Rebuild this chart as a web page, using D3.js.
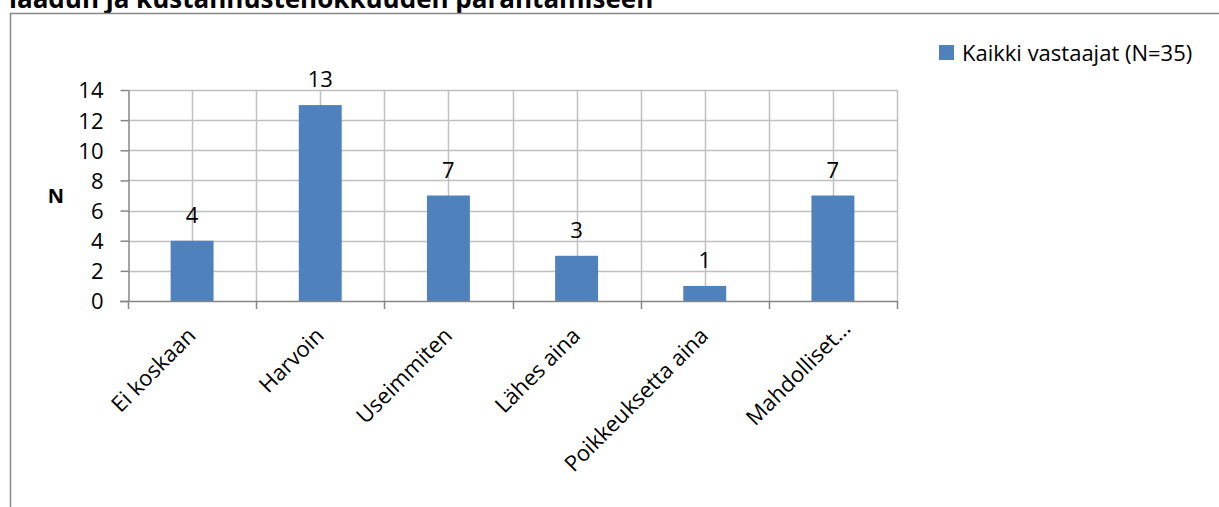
<!DOCTYPE html>
<head>
  <meta charset="utf-8">
  <style>
    body { margin: 0; background: #fff; }
    text { font-family: 'Open Sans', 'Noto Sans', sans-serif; fill: #000; }
  </style>
</head>
<body>
  <script src="https://cdn.jsdelivr.net/npm/d3@7"></script>
  <script>
    // data
    const categories = ['Ei koskaan', 'Harvoin', 'Useimmiten', 'Lähes aina', 'Poikkeuksetta aina', 'Mahdolliset…'];
    const counts = [4, 13, 7, 3, 1, 7];
    const yTicks = [0, 2, 4, 6, 8, 10, 12, 14];
    const seriesName = 'Kaikki vastaajat (N=35)';
    const titleText = 'laadun ja kustannustehokkuuden parantamiseen';

    const width = 1219;
    const height = 507;
    const plot = {left: 128, right: 897, top: 90, bottom: 301};
    const barColor = '#4F81BD';
    const fs = '22px';

    const svg = d3.select('body').append('svg')
      .attr('width', width)
      .attr('height', height);

    // title line (cut off at the top in the reference)
    svg.append('text')
      .attr('x', 9).attr('y', 8)
      .style('font-size', '26px')
      .style('font-weight', 'bold')
      .text(titleText);

    // chart frame
    svg.append('path')
      .attr('d', 'M10.5,' + height + ' V13.5 H' + width)
      .attr('fill', 'none')
      .attr('stroke', '#888')
      .attr('stroke-width', 1.5);

    const x = d3.scaleBand().domain(categories).range([plot.left, plot.right]);
    const y = d3.scaleLinear().domain([0, 14]).range([plot.bottom, plot.top]);

    // gridlines: horizontal
    svg.append('g').selectAll('line')
      .data(yTicks.filter(d => d > 0)).enter().append('line')
      .attr('x1', plot.left).attr('x2', plot.right)
      .attr('y1', d => Math.round(y(d)) + 0.5).attr('y2', d => Math.round(y(d)) + 0.5)
      .attr('stroke', '#C0C0C0').attr('stroke-width', 1.5);

    // gridlines: vertical at category edges and centres
    const vLines = [];
    categories.forEach(c => {
      vLines.push(x(c) + x.bandwidth() / 2);
      vLines.push(x(c) + x.bandwidth());
    });
    svg.append('g').selectAll('line')
      .data(vLines).enter().append('line')
      .attr('x1', d => Math.round(d) + 0.5).attr('x2', d => Math.round(d) + 0.5)
      .attr('y1', plot.top).attr('y2', plot.bottom)
      .attr('stroke', '#C0C0C0').attr('stroke-width', 1.5);

    // bars
    const bw = x.bandwidth() * 0.335;
    svg.append('g').selectAll('rect')
      .data(counts).enter().append('rect')
      .attr('x', (d, i) => x(categories[i]) + x.bandwidth() / 2 - bw / 2)
      .attr('y', d => y(d))
      .attr('width', bw)
      .attr('height', d => y(0) - y(d))
      .attr('fill', barColor);

    // value labels
    svg.append('g').selectAll('text')
      .data(counts).enter().append('text')
      .attr('x', (d, i) => x(categories[i]) + x.bandwidth() / 2)
      .attr('y', d => y(d) - 18)
      .attr('text-anchor', 'middle')
      .style('font-size', fs)
      .text(d => d);

    // y axis
    const yAxis = d3.axisLeft(y).tickValues(yTicks).tickSize(8).tickPadding(17).tickSizeOuter(0);
    const gy = svg.append('g')
      .attr('transform', 'translate(' + (plot.left + 0.5) + ',0)')
      .call(yAxis);
    gy.selectAll('text').style('font-size', fs).attr('fill', '#000').attr('dy', '0.36em');
    gy.selectAll('line').attr('stroke', '#868686').attr('stroke-width', 1.5);
    gy.select('.domain').attr('stroke', '#868686').attr('stroke-width', 1.5);

    // x axis baseline with ticks at category edges
    svg.append('line')
      .attr('x1', plot.left - 8).attr('x2', plot.right + 1)
      .attr('y1', plot.bottom + 0.5).attr('y2', plot.bottom + 0.5)
      .attr('stroke', '#868686').attr('stroke-width', 1.5);
    const edges = [plot.left].concat(categories.map(c => x(c) + x.bandwidth()));
    svg.append('g').selectAll('line')
      .data(edges).enter().append('line')
      .attr('x1', d => Math.round(d) + 0.5).attr('x2', d => Math.round(d) + 0.5)
      .attr('y1', plot.bottom).attr('y2', plot.bottom + 8)
      .attr('stroke', '#868686').attr('stroke-width', 1.5);

    // rotated category labels
    svg.append('g').selectAll('text')
      .data(categories).enter().append('text')
      .attr('transform', (d, i) => 'translate(' + (x(d) + x.bandwidth() / 2 + 5 + (i === 5 ? 14 : 0)) + ',' + (plot.bottom + 36 - (i === 5 ? 7 : 0)) + ') rotate(-45)')
      .attr('text-anchor', 'end')
      .style('font-size', fs)
      .text(d => d);

    // y axis title
    svg.append('text')
      .attr('x', 56).attr('y', 203)
      .attr('text-anchor', 'middle')
      .style('font-size', '20px')
      .style('font-weight', 'bold')
      .text('N');

    // legend
    const legend = svg.append('g');
    legend.append('rect')
      .attr('x', 939).attr('y', 45).attr('width', 15).attr('height', 15)
      .attr('fill', barColor);
    legend.append('text')
      .attr('x', 962).attr('y', 61)
      .style('font-size', fs)
      .text(seriesName);
  </script>
</body>
